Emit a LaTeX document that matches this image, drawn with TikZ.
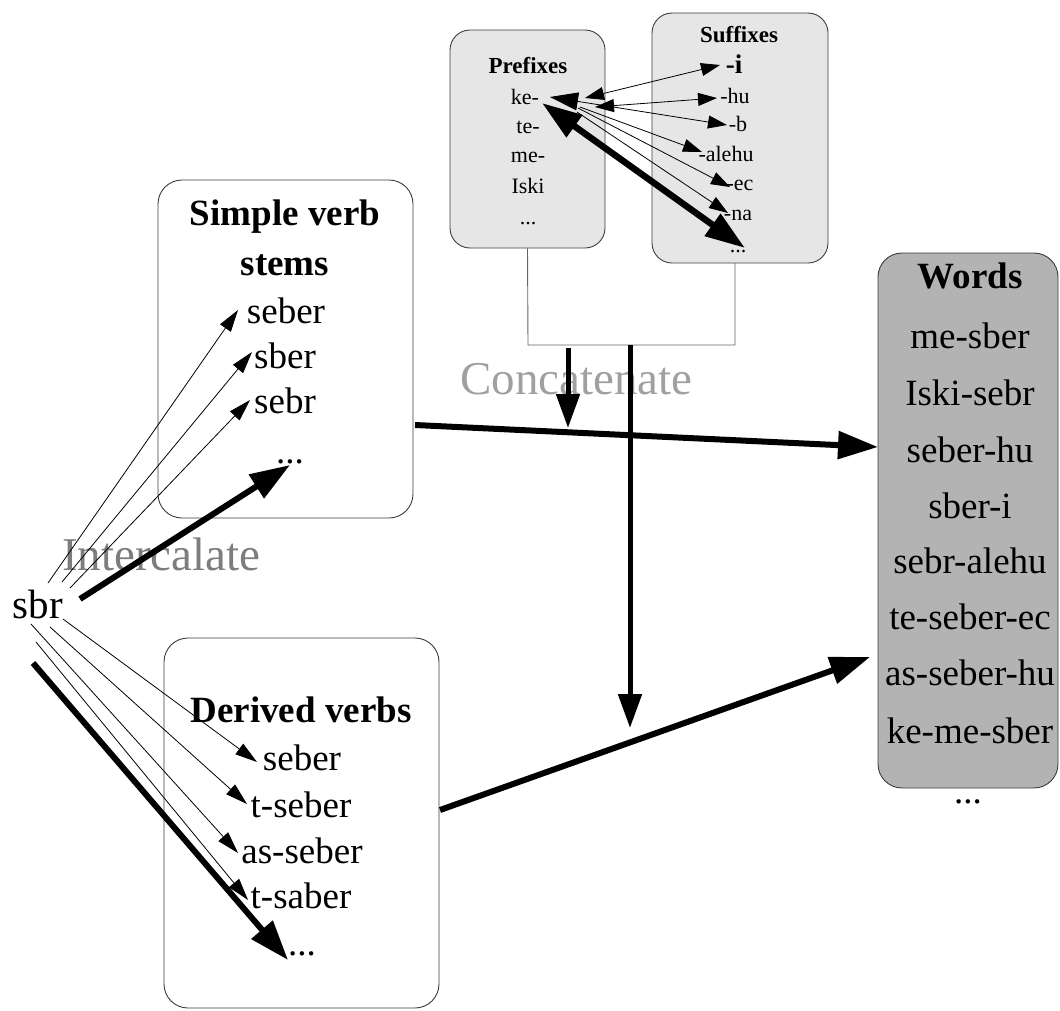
\documentclass[tikz,border=0pt]{standalone}
\usepackage{fontspec}
\setmainfont{Liberation Serif}
\usetikzlibrary{arrows.meta}
\definecolor{wordfill}{RGB}{179,179,179}
\definecolor{affixfill}{RGB}{230,230,230}
\definecolor{boxline}{RGB}{60,60,60}
\definecolor{linkgray}{RGB}{100,100,100}
\definecolor{labeldark}{RGB}{125,125,125}
\definecolor{labellight}{RGB}{160,160,160}
\begin{document}
\begin{tikzpicture}[x=1pt,y=-1pt,
  panel/.style={draw=boxline, line width=0.9pt, rounded corners=24pt, inner sep=0pt, fill=white},
  affix/.style={panel, fill=affixfill, rounded corners=20pt},
  txt/.style={inner sep=0pt, anchor=base, font=\fontsize{37}{44}\selectfont},
  ttl/.style={inner sep=0pt, anchor=base, font=\fontsize{37}{44}\selectfont\bfseries},
  stxt/.style={inner sep=0pt, anchor=base, font=\fontsize{22}{26}\selectfont},
  sttl/.style={inner sep=0pt, anchor=base, font=\fontsize{23}{26}\selectfont\bfseries},
  label/.style={inner sep=0pt, anchor=base west, font=\fontsize{47}{50}\selectfont},
  fine/.style={line width=0.8pt, -{Triangle[length=22pt,width=13pt]}},
  finesmall/.style={line width=0.8pt, -{Triangle[length=19pt,width=13pt]}},
  finetwo/.style={line width=0.8pt, {Triangle[length=19pt,width=13pt]}-{Triangle[length=19pt,width=13pt]}},
  finetwobig/.style={line width=0.8pt, {Triangle[length=28pt,width=18pt]}-{Triangle[length=19pt,width=13pt]}},
  heavy/.style={line width=6pt, -{Triangle[length=40pt,width=27pt]}},
  heavytwo/.style={line width=6.5pt, {Triangle[length=40pt,width=26pt]}-{Triangle[length=40pt,width=26pt]}},
  heavyshort/.style={line width=5pt, -{Triangle[length=34pt,width=23pt]}},
  link/.style={draw=linkgray, line width=0.9pt},
]
\useasboundingbox (0,0) rectangle (1060,1010);

% panels
\node[panel, minimum width=255pt, minimum height=338pt] (stems) at (285.5,349) {};
\node[panel, minimum width=275pt, minimum height=370pt] (derived) at (301.5,823) {};
\node[panel, fill=wordfill, minimum width=180pt, minimum height=535pt] (words) at (968,520.5) {};
\node[affix, minimum width=155pt, minimum height=218pt] (prefixes) at (527.5,139) {};
\node[affix, minimum width=176pt, minimum height=250pt] (suffixes) at (740,138) {};

% simple verb stems
\node[ttl] (stemsA) at (285,225) {Simple verb};
\node[ttl] (stemsB) at (285,275) {stems};
\node[txt] (sv1) at (286,323) {seber};
\node[txt] (sv2) at (285,368) {sber};
\node[txt] (sv3) at (285,413) {sebr};
\node[txt] (sv4) at (290,463) {...};

% derived verbs
\node[ttl] (dvT) at (301,722) {Derived verbs};
\node[txt] (dv1) at (302,770) {seber};
\node[txt] (dv2) at (301,817) {t-seber};
\node[txt] (dv3) at (302,863) {as-seber};
\node[txt] (dv4) at (301,908) {t-saber};
\node[txt] (dv5) at (302,955) {...};

% root and operation labels
\node[txt, font=\fontsize{41}{46}\selectfont] (sbr) at (38,618) {sbr};
\node[label, text=labeldark] (intercal) at (62,570) {Intercalate};
\node[label, text=labellight] (concat) at (460,394) {Concatenate};

% words
\node[ttl] (wT) at (970,288) {Words};
\node[txt] (w1) at (970,348) {me-sber};
\node[txt] (w2) at (970,405) {Iski-sebr};
\node[txt] (w3) at (970,462) {seber-hu};
\node[txt] (w4) at (970,518) {sber-i};
\node[txt] (w5) at (970,573) {sebr-alehu};
\node[txt] (w6) at (970,629) {te-seber-ec};
\node[txt] (w7) at (970,685) {as-seber-hu};
\node[txt] (w8) at (970,743) {ke-me-sber};
\node[txt] (w9) at (968,803) {...};

% prefixes
\node[sttl] (pT) at (528,73) {Prefixes};
\node[stxt] (p1) at (525,104) {ke-};
\node[stxt] (p2) at (528,133) {te-};
\node[stxt] (p3) at (528,162) {me-};
\node[stxt] (p4) at (528,193) {Iski};
\node[stxt] (p5) at (528,224) {...};

% suffixes
\node[sttl] (sT) at (739,42) {Suffixes};
\node[stxt, font=\fontsize{27}{30}\selectfont\bfseries] (s1) at (734,73) {-i};
\node[stxt] (s2) at (735,103) {-hu};
\node[stxt] (s3) at (738,131) {-b};
\node[stxt] (s4) at (726,161) {-alehu};
\node[stxt] (s5) at (740,190) {-ec};
\node[stxt] (s6) at (738,220) {-na};
\node[stxt] (s7) at (738,252) {...};

% arrow end points
\coordinate (o1) at (48,583);  \coordinate (t1) at (238,310);
\coordinate (o2) at (62,582);  \coordinate (t2) at (252,352);
\coordinate (o3) at (70,588);  \coordinate (t3) at (250,400);
\coordinate (o4) at (80,599);  \coordinate (t4) at (290,465);
\coordinate (o5) at (63,619);  \coordinate (d1) at (257,762);
\coordinate (o6) at (50,627);  \coordinate (d2) at (247,804);
\coordinate (o7) at (31,624);  \coordinate (d3) at (238,853);
\coordinate (o8) at (36,642);  \coordinate (d4) at (248,900);
\coordinate (o9) at (33,663);  \coordinate (d5) at (288,960);

\coordinate (stemsOut) at (415,425);  \coordinate (wordsInA) at (878,447);
\coordinate (derivOut) at (440,810);  \coordinate (wordsInB) at (870,657);
\coordinate (joinL) at (528,345);     \coordinate (joinR) at (735,345);
\coordinate (sufDrop) at (735,263);
\coordinate (joinMid) at (630,345);   \coordinate (dropEnd) at (630,728);
\coordinate (catTop) at (568,348);    \coordinate (catEnd) at (568,428);

\coordinate (k1) at (585,98);  \coordinate (e1) at (720,65);
\coordinate (k2) at (595,107); \coordinate (e2) at (717,98);
\coordinate (k3) at (550,97);  \coordinate (e3) at (727,125);
\coordinate (k4) at (580,107); \coordinate (e4) at (702,152);
\coordinate (k5) at (578,108); \coordinate (e5) at (730,187);
\coordinate (k6) at (577,112); \coordinate (e6) at (728,213);
\coordinate (k7) at (542,103); \coordinate (e7) at (745,248);

% intercalation
\draw[fine] (o1) -- (t1);
\draw[fine] (o2) -- (t2);
\draw[fine] (o3) -- (t3);
\draw[heavy] (o4) -- (t4);
\draw[fine] (o5) -- (d1);
\draw[fine] (o6) -- (d2);
\draw[fine] (o7) -- (d3);
\draw[fine] (o8) -- (d4);
\draw[heavy] (o9) -- (d5);

% affix links
\draw[finetwo] (k1) -- (e1);
\draw[finetwo] (k2) -- (e2);
\draw[finetwobig] (k3) -- (e3);
\draw[finesmall] (k4) -- (e4);
\draw[finesmall] (k5) -- (e5);
\draw[finesmall] (k6) -- (e6);
\draw[heavytwo] (k7) -- (e7);

% concatenation
\draw[link] (prefixes.south) -- (joinL) -- (joinR) -- (sufDrop);
\draw[heavyshort] (catTop) -- (catEnd);
\draw[heavyshort] (joinMid) -- (dropEnd);
\draw[heavy] (stemsOut) -- (wordsInA);
\draw[heavy] (derivOut) -- (wordsInB);
\end{tikzpicture}
\end{document}
